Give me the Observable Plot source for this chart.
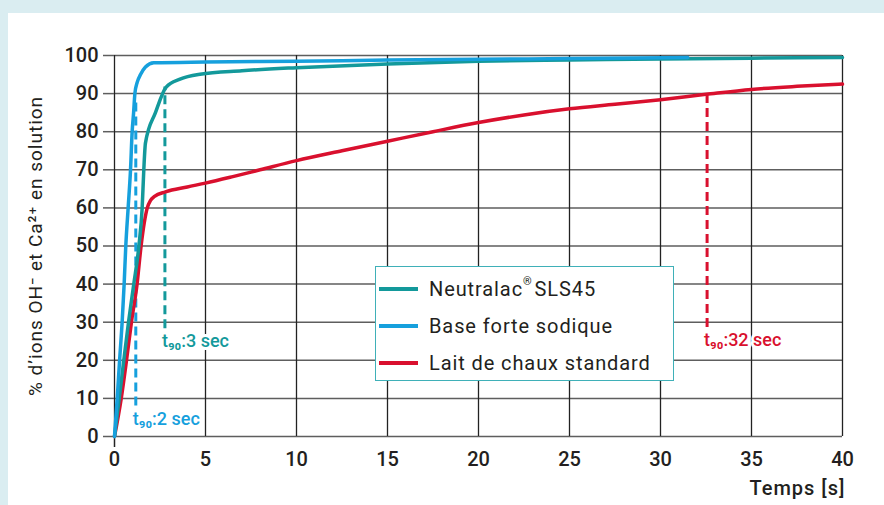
<!DOCTYPE html>
<html><head><meta charset="utf-8">
<script src="https://cdn.jsdelivr.net/npm/d3@7"></script>
<script src="https://cdn.jsdelivr.net/npm/@observablehq/plot@0.6"></script>
<style>
html,body{margin:0;padding:0;background:#daedf1;width:884px;height:505px;overflow:hidden;font-family:Roboto,"DejaVu Sans",sans-serif;}
#panel{position:absolute;left:8px;top:13px;width:876px;height:492px;background:#fff;}
#chart{position:absolute;left:0;top:0;}
#legend{position:absolute;left:375px;top:266px;width:297px;height:113px;border:1.5px solid #3fb0b8;background:#fff;}
.row{position:absolute;left:3px;height:22px;display:flex;align-items:center;font-size:20px;color:#231f20;letter-spacing:0.9px;white-space:nowrap;}
.sw{width:39px;height:4px;margin-right:11px;flex:none;}
.row sup{font-size:11px;position:relative;top:-3px;margin-right:2px;}
</style></head><body>
<div id="panel"></div><div id="chart"></div><div id="legend"></div>
<script>
// Series names & colours
const seriesNames = ["Neutralac® SLS45", "Base forte sodique", "Lait de chaux standard"];
const seriesColors = ["#13999b", "#16a0dd", "#d9102e"];

// Neutralac SLS45 (teal)
const neutralacT = [0, 0.26, 0.51, 0.77, 1.06, 1.34, 1.52, 1.61, 1.7, 2.25, 2.84, 3.6, 4.7, 7, 10, 15, 20, 25, 30, 35, 40];
const neutralacV = [0, 10, 20, 30, 40, 50, 60, 70, 77, 85, 91.7, 93.8, 95.1, 96.0, 96.8, 97.8, 98.5, 98.8, 99.1, 99.3, 99.5];

// Base forte sodique (blue)
const baseT = [0, 0.15, 0.28, 0.42, 0.53, 0.62, 0.75, 0.88, 0.97, 1.05, 1.12, 1.25, 1.43, 1.7, 2.16, 5, 10, 15, 20, 25, 31.5];
const baseV = [0, 10, 20, 30, 40, 50, 60, 70, 80, 85, 90, 93, 95, 97, 98.1, 98.3, 98.5, 98.8, 99.0, 99.2, 99.5];

// Lait de chaux standard (red)
const laitT = [0, 0.37, 0.66, 0.93, 1.24, 1.46, 1.8, 1.98, 2.2, 2.8, 4, 5, 6.5, 8, 10, 12.5, 15, 17.5, 20, 22.5, 25, 27.5, 30, 32.5, 35, 37.5, 40];
const laitV = [0, 10, 20, 30, 40, 50, 60, 62, 63, 64.2, 65.5, 66.5, 68.2, 70.0, 72.4, 75.0, 77.5, 80, 82.4, 84.4, 86, 87.2, 88.4, 89.8, 91.1, 91.9, 92.5];

// t90 markers
const t90Time = [1.17, 2.77, 32.56];
const t90Top = [87.7, 91.7, 90];
const t90Bottom = [8, 28.3, 28.6];
const t90Labels = ["t₉₀:2 sec", "t₉₀:3 sec", "t₉₀:32 sec"];
const t90Colors = [seriesColors[1], seriesColors[0], seriesColors[2]];

// Axes
const xTicks = [0, 5, 10, 15, 20, 25, 30, 35, 40];
const yTicks = [0, 10, 20, 30, 40, 50, 60, 70, 80, 90, 100];
const yLabel = "% d’ions OH⁻ et Ca²⁺ en solution";
const xLabel = "Temps [s]";

const rows = (T, V) => T.map((t, i) => ({t, v: V[i]}));
const t90Rows = t90Time.map((t, i) => ({t, top: t90Top[i], bottom: t90Bottom[i], label: t90Labels[i], color: t90Colors[i]}));

const chart = Plot.plot({
  width: 884, height: 505,
  marginLeft: 114, marginRight: 42, marginTop: 55, marginBottom: 69,
  style: {background: "transparent", fontFamily: "Roboto, 'DejaVu Sans', sans-serif", color: "#231f20"},
  x: {domain: [0, 40]},
  y: {domain: [0, 100]},
  color: {type: "identity"},
  marks: [
    Plot.gridY(yTicks, {stroke: "#5e5e5e", strokeOpacity: 1, strokeWidth: 1.5}),
    Plot.gridX(xTicks, {stroke: "#222", strokeOpacity: 1, strokeWidth: 1.3}),
    Plot.axisY(yTicks, {tickSize: 11, tickPadding: 5, fontSize: 20, fontWeight: 500, label: null, stroke: "#5e5e5e", strokeWidth: 1.5}),
    Plot.axisX(xTicks, {tickSize: 0, tickPadding: 15, fontSize: 20, fontWeight: 500, label: null}),
    Plot.axisX([0], {tickSize: 11, text: null, stroke: "#222", strokeWidth: 1.5, label: null}),
    Plot.ruleX(t90Rows, {x: "t", y1: "bottom", y2: "top", stroke: "color", strokeWidth: 3, strokeDasharray: "9,5"}),
    Plot.text(t90Rows, {x: "t", y: "bottom", text: "label", fill: "color", textAnchor: "start", dx: -3, dy: 13, fontSize: 18, fontWeight: 500, stroke: "white", strokeWidth: 6}),
    Plot.line(rows(laitT, laitV), {x: "t", y: "v", stroke: seriesColors[2], strokeWidth: 3.5, curve: "monotone-x"}),
    Plot.line(rows(neutralacT, neutralacV), {x: "t", y: "v", stroke: seriesColors[0], strokeWidth: 3.5, curve: "monotone-x"}),
    Plot.line(rows(baseT, baseV), {x: "t", y: "v", stroke: seriesColors[1], strokeWidth: 3.5, curve: "monotone-x"}),
    Plot.text([yLabel], {frameAnchor: "left", textAnchor: "middle", rotate: -90, dx: -79, fontSize: 19, fontWeight: 400}),
    Plot.text([xLabel], {frameAnchor: "bottom-right", textAnchor: "end", dx: 3, dy: 58, fontSize: 20, fontWeight: 500})
  ]
});
document.getElementById("chart").appendChild(chart);
// letter spacing for the axis title texts
d3.select(chart).selectAll("text").filter(function() { return this.textContent === xLabel || this.textContent === yLabel; })
  .style("letter-spacing", "1px");

// Legend
const legend = document.getElementById("legend");
const rowTops = [11, 48, 85];
seriesNames.forEach((name, i) => {
  const r = document.createElement("div");
  r.className = "row";
  r.style.top = rowTops[i] + "px";
  const sw = document.createElement("span");
  sw.className = "sw";
  sw.style.background = seriesColors[i];
  r.appendChild(sw);
  const label = document.createElement("span");
  if (name.includes("®")) {
    const [a, b] = name.split("®");
    label.innerHTML = a + "<sup>®</sup>" + b.trim();
  } else label.textContent = name;
  r.appendChild(label);
  legend.appendChild(r);
});
</script>
</body></html>
